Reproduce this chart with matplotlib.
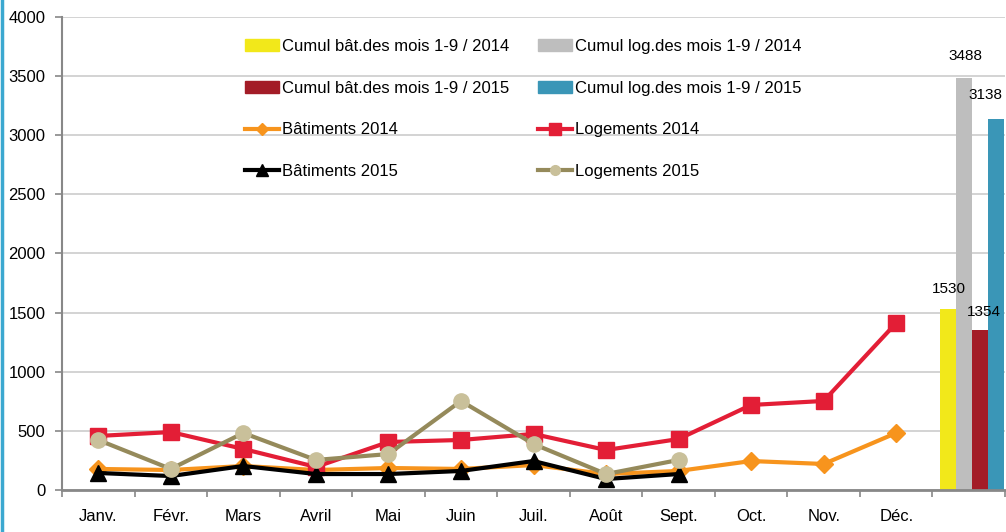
import numpy as np
import matplotlib.pyplot as plt
from matplotlib.patches import Patch
from matplotlib.lines import Line2D

plt.rcParams['font.family'] = ['Liberation Sans', 'DejaVu Sans']

months = ['Janv.', 'Févr.', 'Mars', 'Avril', 'Mai', 'Juin', 'Juil.', 'Août',
          'Sept.', 'Oct.', 'Nov.', 'Déc.']

bat_2014 = [178, 169, 203, 169, 186, 178, 211, 135, 161, 245, 220, 482]
log_2014 = [457, 490, 347, 195, 406, 423, 474, 338, 431, 719, 753, 1412]
bat_2015 = [144, 118, 203, 135, 135, 161, 245, 93, 135]
log_2015 = [423, 178, 482, 254, 304, 753, 389, 135, 254]

cumul_labels = ['Cumul bât.des mois 1-9 / 2014', 'Cumul log.des mois 1-9 / 2014',
                'Cumul bât.des mois 1-9 / 2015', 'Cumul log.des mois 1-9 / 2015']
cumul_values = [1530, 3488, 1354, 3138]
cumul_colors = ['#F2E81A', '#BEBEBE', '#A31C27', '#3A96B7']

fig = plt.figure(figsize=(10.06, 5.32), dpi=100)
ax = fig.add_axes([62/1006, 1 - 490/532, (1005-62)/1006, (490-17)/532])

x12 = np.arange(12)
x9 = np.arange(9)

# cumulative bars in the 13th slot
offsets = [-0.28, -0.06, 0.16, 0.38]
for off, v, c in zip(offsets, cumul_values, cumul_colors):
    ax.bar(12 + off, v, width=0.22, color=c, zorder=2)
label_dx = [-0.27, -0.04, 0.21, 0.47]
label_dy = [110, 120, 90, 140]
label_ha = ['center', 'center', 'center', 'right']
for v, dx, dy, ha in zip(cumul_values, label_dx, label_dy, label_ha):
    ax.text(12 + dx, v + dy, str(v), ha=ha, va='bottom', fontsize=11, zorder=5,
            clip_on=False)

orange = '#F7941D'
red = '#E31E36'
olive = '#958A5B'
olive_face = '#C9C09A'

ax.plot(x12, bat_2014, color=orange, lw=3, marker='D', ms=9, zorder=3)
ax.plot(x12, log_2014, color=red, lw=3, marker='s', ms=11, zorder=3)
ax.plot(x9, bat_2015, color='black', lw=3, marker='^', ms=11, zorder=4)
ax.plot(x9, log_2015, color=olive, lw=3, marker='o', ms=11, mfc=olive_face,
        mec=olive_face, zorder=4)

ax.set_xlim(-0.5, 12.5)
ax.set_ylim(0, 4000)
ax.set_yticks(np.arange(0, 4001, 500))
ax.set_xticks(x12)
ax.set_xticklabels(months, fontsize=12)
ax.set_xticks(np.arange(-0.5, 12.6, 1), minor=True)
ax.tick_params(axis='x', which='major', length=0, pad=14)
ax.tick_params(axis='x', which='minor', length=5, color='#888888', width=1.2)
ax.tick_params(axis='y', length=5, color='#888888', width=1.2, labelsize=12, pad=7)
ax.yaxis.grid(True, color='#CCCCCC', lw=1.2, zorder=0)
ax.set_axisbelow(True)
for s in ['top', 'right']:
    ax.spines[s].set_visible(False)
ax.spines['left'].set_color('#888888')
ax.spines['left'].set_linewidth(1.5)
ax.spines['bottom'].set_color('#888888')
ax.spines['bottom'].set_linewidth(2)

h_bars = [Patch(color=c) for c in cumul_colors]
h_bat14 = Line2D([], [], color=orange, lw=3, marker='D', ms=6)
h_log14 = Line2D([], [], color=red, lw=3, marker='s', ms=8)
h_bat15 = Line2D([], [], color='black', lw=3, marker='^', ms=8)
h_log15 = Line2D([], [], color=olive, lw=3, marker='o', ms=7, mfc=olive_face, mec=olive_face)
handles = [h_bars[0], h_bars[2], h_bat14, h_bat15, h_bars[1], h_bars[3], h_log14, h_log15]
labels = [cumul_labels[0], cumul_labels[2], 'Bâtiments 2014', 'Bâtiments 2015',
          cumul_labels[1], cumul_labels[3], 'Logements 2014', 'Logements 2015']
fig.legend(handles, labels, loc='upper left', bbox_to_anchor=(245/1006, 1 - 39/532),
           ncol=2, frameon=False, fontsize=12, handlelength=2.05, handletextpad=0.15,
           columnspacing=1.75, labelspacing=1.6, borderpad=0, borderaxespad=0,
           handleheight=0.7)

fig.add_artist(Line2D([1.5/1006, 1.5/1006], [0, 1], color='#3BA8D0', lw=2.5,
                      transform=fig.transFigure))

fig.savefig('out.png', dpi=100)
